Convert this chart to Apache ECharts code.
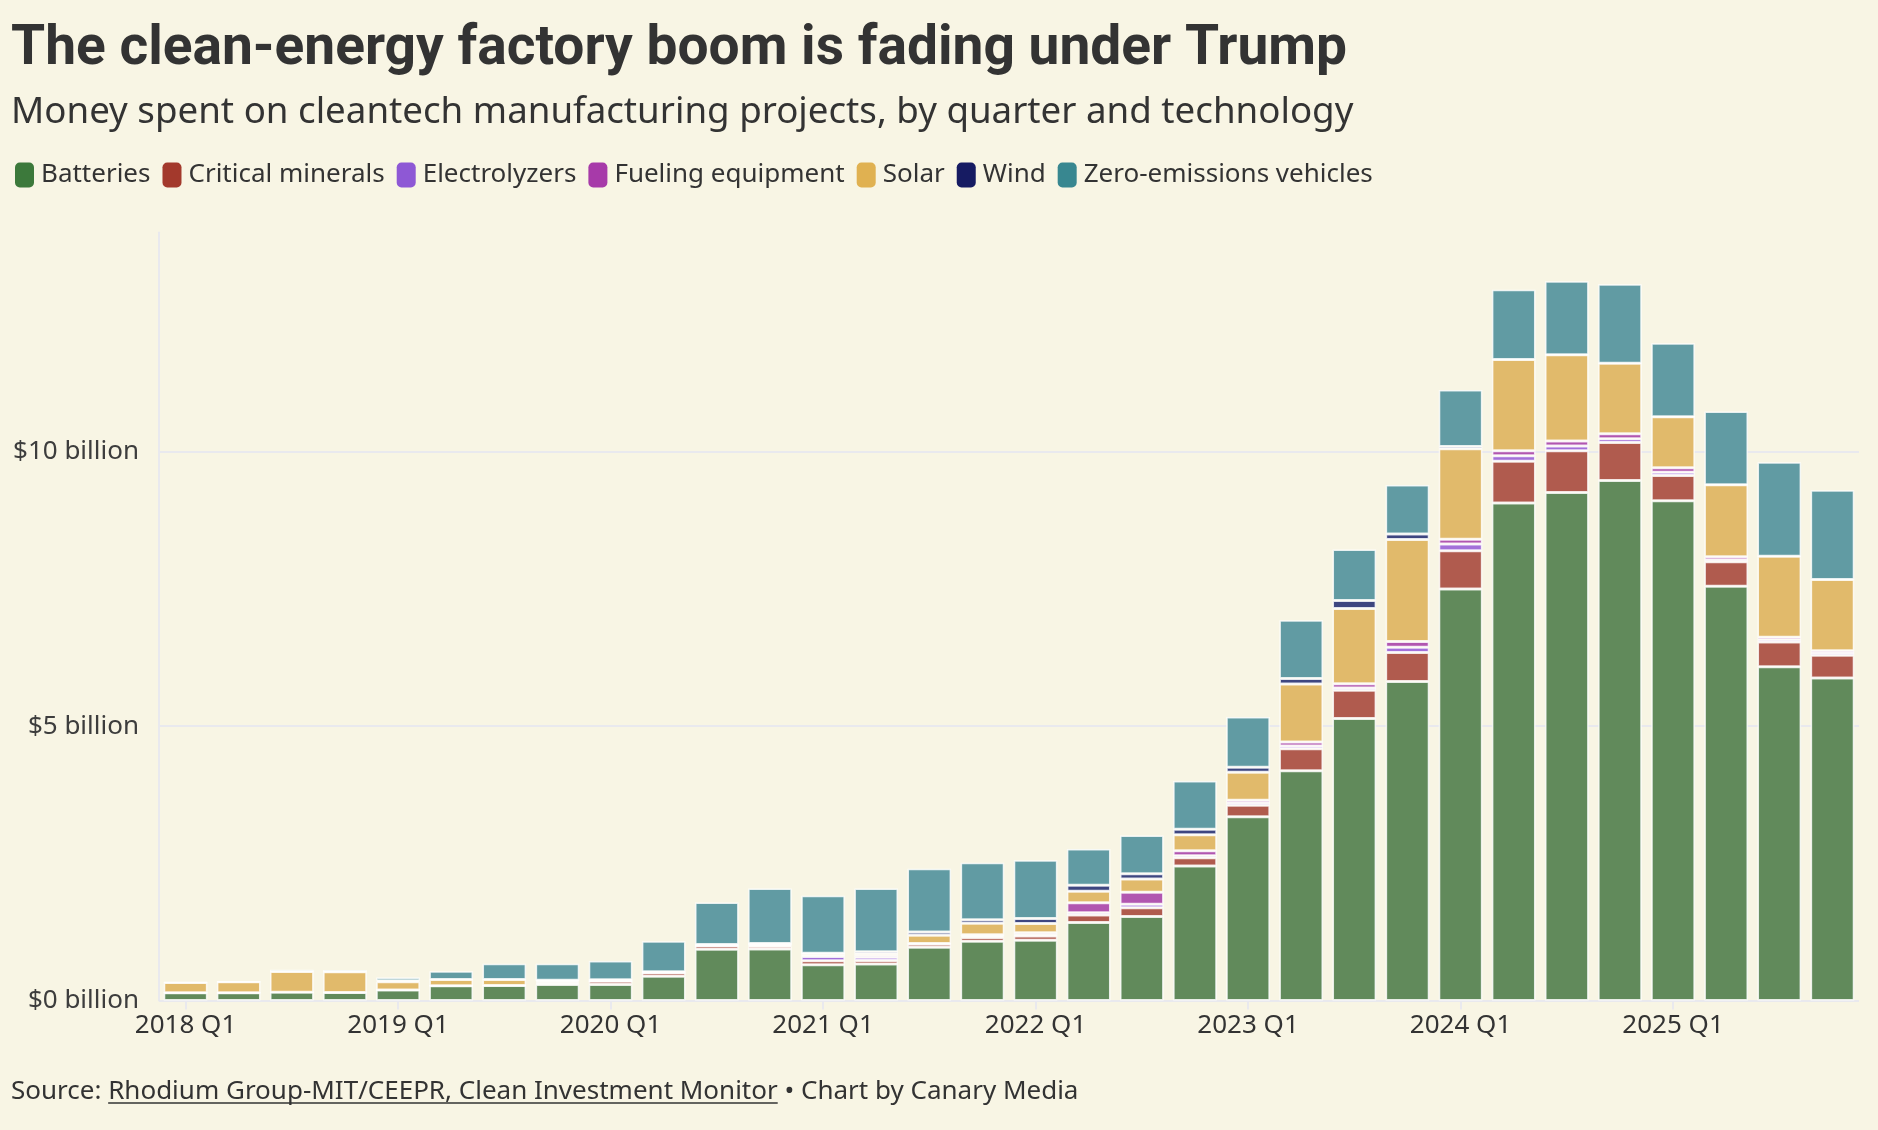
<!DOCTYPE html>
<html>
<head>
<meta charset="utf-8">
<script src="https://cdn.jsdelivr.net/npm/echarts@6/dist/echarts.min.js"></script>
<style>
html,body{margin:0;padding:0;background:#f8f5e4;}
#chart{width:1878px;height:1130px;}
</style>
</head>
<body>
<div id="chart"></div>
<script>
// ---------- DATA (billions of US dollars) ----------
const quarters = [
  "2018 Q1","2018 Q2","2018 Q3","2018 Q4",
  "2019 Q1","2019 Q2","2019 Q3","2019 Q4",
  "2020 Q1","2020 Q2","2020 Q3","2020 Q4",
  "2021 Q1","2021 Q2","2021 Q3","2021 Q4",
  "2022 Q1","2022 Q2","2022 Q3","2022 Q4",
  "2023 Q1","2023 Q2","2023 Q3","2023 Q4",
  "2024 Q1","2024 Q2","2024 Q3","2024 Q4",
  "2025 Q1","2025 Q2","2025 Q3","2025 Q4"
];
const batteries = [0.14,0.14,0.15,0.145, 0.19,0.27,0.275,0.29, 0.29,0.44,0.935,0.94, 0.65,0.665,0.97,1.08, 1.10,1.42,1.53,2.45, 3.35,4.19,5.14,5.815, 7.50,9.07,9.26,9.48, 9.11,7.55,6.085,5.88];
const criticalMinerals = [0,0,0,0, 0,0,0,0.02, 0.06,0.065,0.065,0.05, 0.075,0.065,0.06,0.07, 0.075,0.14,0.16,0.15, 0.21,0.40,0.515,0.53, 0.70,0.76,0.76,0.69, 0.46,0.45,0.45,0.415];
const electrolyzers = [0,0,0,0, 0,0,0,0.02, 0,0,0,0.02, 0.075,0.06,0.01,0.02, 0.03,0.04,0.065,0.04, 0.04,0.05,0.04,0.095, 0.12,0.10,0.09,0.07, 0.06,0.03,0.04,0.04];
const fuelingEquipment = [0,0,0,0, 0,0,0,0.02, 0,0,0,0, 0.03,0.03,0,0.03, 0.03,0.18,0.22,0.09, 0.05,0.07,0.08,0.105, 0.09,0.09,0.09,0.09, 0.08,0.06,0.045,0.04];
const solar = [0.19,0.20,0.38,0.38, 0.15,0.115,0.11,0.02, 0.03,0.02,0.02,0.03, 0.03,0.03,0.15,0.21, 0.17,0.21,0.24,0.29, 0.51,1.06,1.37,1.86, 1.65,1.665,1.57,1.285, 0.93,1.31,1.48,1.30];
const wind = [0,0,0,0, 0.02,0,0,0, 0,0,0,0, 0,0.04,0.06,0.06, 0.09,0.11,0.095,0.10, 0.09,0.10,0.145,0.10, 0.04,0,0,0, 0,0,0,0];
const zeroEmissionVehicles = [0,0,0.03,0.03, 0.06,0.15,0.285,0.30, 0.34,0.555,0.765,1.00, 1.05,1.15,1.15,1.04, 1.06,0.66,0.70,0.88, 0.92,1.06,0.93,0.89, 1.03,1.27,1.34,1.44, 1.34,1.335,1.71,1.625];

const seriesNames = ["Batteries","Critical minerals","Electrolyzers","Fueling equipment","Solar","Wind","Zero-emissions vehicles"];
const seriesValues = [batteries, criticalMinerals, electrolyzers, fuelingEquipment, solar, wind, zeroEmissionVehicles];
const yTicks = [0, 5, 10];

// ---------- STYLE ----------
const legendColors = ["#3c793b","#a3392c","#8e58d5","#a73aa9","#e0b151","#161b62","#388790"];
const barColors    = ["#618a5b","#b05b4e","#a370d9","#b156b0","#e1ba6b","#3e4680","#619ba3"];
const BG = "#f8f5e4";
const TEXT = "#333333";
const GRID = "#e9e9ee";

// measure text widths for fitting / underline
const ctx = document.createElement("canvas").getContext("2d");
function measure(font, txt){ ctx.font = font; return ctx.measureText(txt).width; }

const titleText = "The clean-energy factory boom is fading under Trump";
const subText = "Money spent on cleantech manufacturing projects, by quarter and technology";
const titleFamily = 'Roboto';
const titleSize = Math.round(100 * 1336 / measure('bold 100px ' + titleFamily, titleText) * 10) / 10;
const subFamily = '"Noto Sans"';
const subSize = Math.round(100 * 1344 / measure('100px ' + subFamily, subText) * 10) / 10;

const srcFont = '26px "Noto Sans"';
const srcA = "Source: ";
const srcB = "Rhodium Group-MIT/CEEPR, Clean Investment Monitor";
const srcC = " \u2022 Chart by Canary Media";
const wA = measure(srcFont, srcA);
const wB = measure(srcFont, srcB);

const chart = echarts.init(document.getElementById("chart"), null, {renderer: "canvas"});

const series = seriesNames.map((name, i) => ({
  name: name,
  type: "bar",
  stack: "total",
  barCategoryGap: "18%",
  data: seriesValues[i],
  itemStyle: {
    color: barColors[i],
    borderColor: "rgba(255,255,255,0.8)",
    borderWidth: 1.5
  },
  emphasis: {disabled: true}
}));

chart.setOption({
  backgroundColor: BG,
  animation: false,
  textStyle: {fontFamily: '"Noto Sans"'},
  graphic: [
    {type: "text", left: 11, top: 23, style: {text: titleText, font: 'bold ' + titleSize + 'px ' + titleFamily, fill: TEXT}},
    {type: "text", left: 11, top: 94, style: {text: subText, font: subSize + 'px ' + subFamily, fill: TEXT}},
    {type: "text", left: 11, top: 1079, style: {text: srcA + srcB + srcC, font: srcFont, fill: TEXT}},
    {type: "line", shape: {x1: 11 + wA, y1: 1103, x2: 11 + wA + wB, y2: 1103}, style: {stroke: TEXT, lineWidth: 1.5}}
  ],
  legend: {
    left: 10,
    top: 157,
    itemWidth: 19,
    itemHeight: 25,
    itemGap: 12,
    icon: "roundRect",
    selectedMode: false,
    itemStyle: {borderWidth: 0},
    textStyle: {fontSize: 26, color: TEXT, fontFamily: '"Noto Sans"', padding: [0, 0, 0, 2]},
    data: seriesNames.map((n, i) => ({name: n, itemStyle: {color: legendColors[i], borderWidth: 0}}))
  },
  grid: {left: 159, right: 19, top: 232.5, bottom: 129.5, containLabel: false},
  xAxis: {
    type: "category",
    data: quarters,
    axisLine: {show: false},
    axisTick: {show: true, interval: 3, alignWithLabel: true, length: 9, lineStyle: {color: GRID, width: 2}},
    axisLabel: {interval: 3, fontSize: 26, color: TEXT, margin: 12, fontFamily: '"Noto Sans"'}
  },
  yAxis: {
    type: "value",
    min: 0,
    max: 14,
    interval: 5,
    axisLine: {show: true, lineStyle: {color: GRID, width: 2}},
    axisTick: {show: false},
    splitLine: {show: true, showMaxLine: false, lineStyle: {color: GRID, width: 2}},
    axisLabel: {
      showMaxLabel: false,
      fontSize: 26, color: "#3d3d3d", margin: 20, fontFamily: '"Noto Sans"',
      formatter: v => (yTicks.indexOf(v) >= 0 ? "$" + v + " billion" : "")
    }
  },
  series: series
});
</script>
</body>
</html>
